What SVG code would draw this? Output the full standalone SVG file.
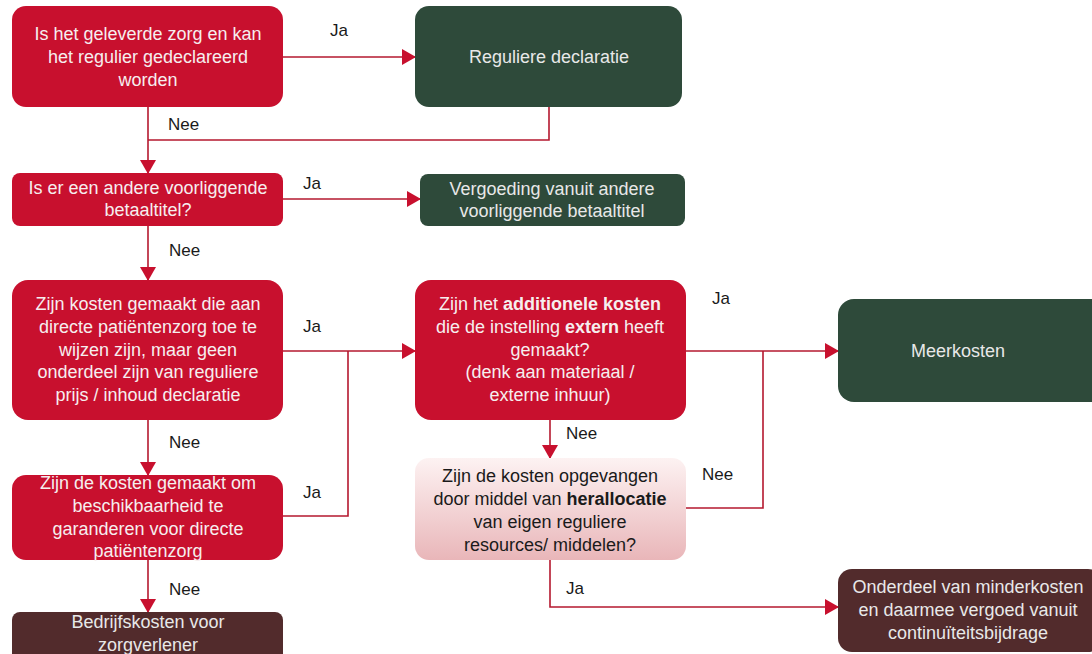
<svg xmlns="http://www.w3.org/2000/svg" width="1092" height="654" viewBox="0 0 1092 654">
<style>
text{font-family:"Liberation Sans",Arial,sans-serif;font-size:18px;text-anchor:middle;dominant-baseline:central}
.red{fill:#c8102e}
.green{fill:#2e4a3a}
.brown{fill:#522b2c}
.lt{fill:#f6eeee}
.gt{fill:#e8e8e8}
.dk{fill:#1a1a1a}
.lbl{fill:#1a1a1a;text-anchor:start;font-size:17px}
.con{fill:none;stroke:#b5182f;stroke-width:1.6}
</style>
<defs>
<marker id="ah" markerUnits="userSpaceOnUse" markerWidth="14" markerHeight="16" refX="13" refY="8" orient="auto">
<path d="M0,0 L14,8 L0,16 Z" fill="#c8102e"/>
</marker>
<linearGradient id="pink" x1="0" y1="0" x2="0" y2="1">
<stop offset="0" stop-color="#fdf2f2"/>
<stop offset="1" stop-color="#e9b6b9"/>
</linearGradient>
</defs>
<rect width="1092" height="654" fill="#ffffff"/>
<g id="connectors">
<path class="con" d="M283,57 H415" marker-end="url(#ah)"/>
<path class="con" d="M148,107 V173" marker-end="url(#ah)"/>
<path class="con" d="M549,107 V140 H148"/>
<path class="con" d="M283,199 H420" marker-end="url(#ah)"/>
<path class="con" d="M148,226 V280" marker-end="url(#ah)"/>
<path class="con" d="M283,351 H415" marker-end="url(#ah)"/>
<path class="con" d="M283,516 H348 V351"/>
<path class="con" d="M148,420 V475" marker-end="url(#ah)"/>
<path class="con" d="M148,560 V612" marker-end="url(#ah)"/>
<path class="con" d="M686,351 H838" marker-end="url(#ah)"/>
<path class="con" d="M686,508 H763 V351"/>
<path class="con" d="M550,420 V458" marker-end="url(#ah)"/>
<path class="con" d="M550,560 V607 H838" marker-end="url(#ah)"/>
<text class="lbl" x="330" y="30">Ja</text>
<text class="lbl" x="168" y="124">Nee</text>
<text class="lbl" x="303" y="183">Ja</text>
<text class="lbl" x="169" y="250">Nee</text>
<text class="lbl" x="303" y="326">Ja</text>
<text class="lbl" x="169" y="442">Nee</text>
<text class="lbl" x="303" y="492">Ja</text>
<text class="lbl" x="169" y="589">Nee</text>
<text class="lbl" x="712" y="298">Ja</text>
<text class="lbl" x="566" y="433">Nee</text>
<text class="lbl" x="702" y="474">Nee</text>
<text class="lbl" x="566" y="588">Ja</text>
</g>
<g id="q1">
<rect class="red" x="12" y="6" width="271" height="101" rx="14"/>
<text class="lt" x="148" y="34">Is het geleverde zorg en kan</text>
<text class="lt" x="148" y="57">het regulier gedeclareerd</text>
<text class="lt" x="148" y="80">worden</text>
</g>
<g id="reguliere">
<rect class="green" x="415" y="6" width="267" height="101" rx="14"/>
<text class="gt" x="549" y="57">Reguliere declaratie</text>
</g>
<g id="q2">
<rect class="red" x="12" y="173" width="271" height="53" rx="8"/>
<text class="lt" x="148" y="188">Is er een andere voorliggende</text>
<text class="lt" x="148" y="210">betaaltitel?</text>
</g>
<g id="vergoeding">
<rect class="green" x="420" y="174" width="265" height="52" rx="8"/>
<text class="gt" x="552" y="189">Vergoeding vanuit andere</text>
<text class="gt" x="552" y="211">voorliggende betaaltitel</text>
</g>
<g id="q3">
<rect class="red" x="12" y="280" width="271" height="140" rx="16"/>
<text class="lt" x="148" y="304">Zijn kosten gemaakt die aan</text>
<text class="lt" x="148" y="327">directe patiëntenzorg toe te</text>
<text class="lt" x="148" y="350">wijzen zijn, maar geen</text>
<text class="lt" x="148" y="372">onderdeel zijn van reguliere</text>
<text class="lt" x="148" y="395">prijs / inhoud declaratie</text>
</g>
<g id="q4">
<rect class="red" x="415" y="280" width="271" height="140" rx="16"/>
<text class="lt" x="550" y="304">Zijn het <tspan font-weight="bold">additionele kosten</tspan></text>
<text class="lt" x="550" y="327">die de instelling <tspan font-weight="bold">extern</tspan> heeft</text>
<text class="lt" x="550" y="350">gemaakt?</text>
<text class="lt" x="550" y="372">(denk aan materiaal /</text>
<text class="lt" x="550" y="395">externe inhuur)</text>
</g>
<g id="meerkosten">
<rect class="green" x="838" y="299" width="272" height="103" rx="16"/>
<text class="gt" x="958" y="351">Meerkosten</text>
</g>
<g id="q5">
<rect fill="url(#pink)" x="415" y="458" width="271" height="102" rx="14"/>
<text class="dk" x="550" y="476">Zijn de kosten opgevangen</text>
<text class="dk" x="550" y="499">door middel van <tspan font-weight="bold">herallocatie</tspan></text>
<text class="dk" x="550" y="522">van eigen reguliere</text>
<text class="dk" x="550" y="545">resources/ middelen?</text>
</g>
<g id="q6">
<rect class="red" x="12" y="475" width="271" height="85" rx="14"/>
<text class="lt" x="148" y="483">Zijn de kosten gemaakt om</text>
<text class="lt" x="148" y="506">beschikbaarheid te</text>
<text class="lt" x="148" y="529">garanderen voor directe</text>
<text class="lt" x="148" y="551">patiëntenzorg</text>
</g>
<g id="bedrijfskosten">
<rect class="brown" x="12" y="612" width="271" height="56" rx="8"/>
<text class="gt" x="148" y="622">Bedrijfskosten voor</text>
<text class="gt" x="148" y="645">zorgverlener</text>
</g>
<g id="minderkosten">
<rect class="brown" x="838" y="569" width="264" height="83" rx="14"/>
<text class="gt" x="968" y="587">Onderdeel van minderkosten</text>
<text class="gt" x="968" y="610">en daarmee vergoed vanuit</text>
<text class="gt" x="968" y="633">continuïteitsbijdrage</text>
</g>
</svg>
